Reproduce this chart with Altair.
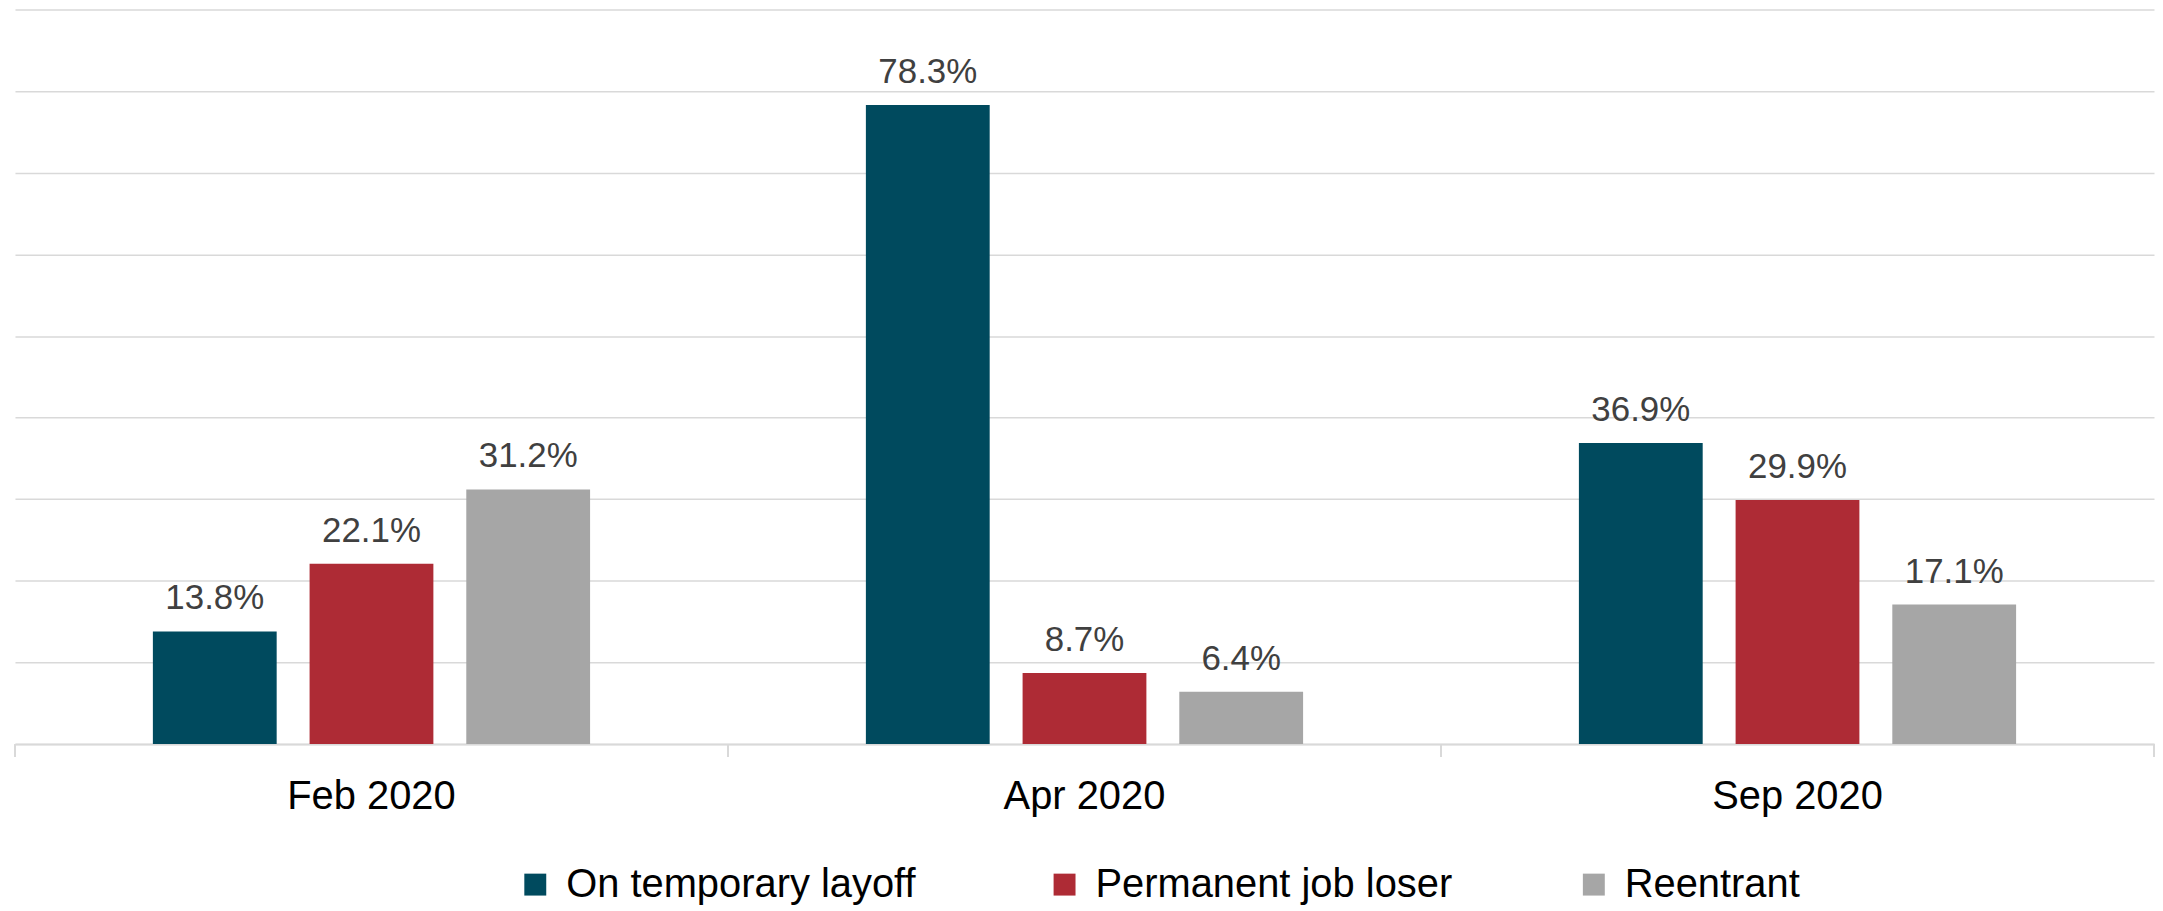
import altair as alt
import pandas as pd

periods = ["Feb 2020", "Apr 2020", "Sep 2020"]
series = ["On temporary layoff", "Permanent job loser", "Reentrant"]
temporary_layoff = [13.8, 78.3, 36.9]
permanent_loser = [22.1, 8.7, 29.9]
reentrant = [31.2, 6.4, 17.1]
colors = ["#004A5E", "#AE2B35", "#A6A6A6"]

rows = []
for i, p in enumerate(periods):
    for s, vals in zip(series, [temporary_layoff, permanent_loser, reentrant]):
        rows.append({"period": p, "series": s, "value": vals[i]})
df = pd.DataFrame(rows)
ticks_df = pd.DataFrame({"period": periods})

W, H = 2146, 737
FONT = "Liberation Sans, Arial, Helvetica, sans-serif"

x_enc = alt.X(
    "period:N",
    sort=periods,
    scale=alt.Scale(paddingInner=0, paddingOuter=0),
    axis=alt.Axis(
        title=None,
        labelFontSize=40,
        labelFont=FONT,
        labelColor="#000000",
        labelAngle=0,
        labelBaseline="alphabetic",
        labelPadding=65,
        ticks=False,
        tickSize=13,
        domainColor="#d9d9d9",
        domainWidth=2,
        grid=False,
    ),
)

y_enc = alt.Y(
    "value:Q",
    scale=alt.Scale(domain=[0, 90], nice=False),
    axis=alt.Axis(
        values=list(range(0, 91, 10)),
        labels=False,
        ticks=False,
        domain=False,
        title=None,
        gridColor="#d9d9d9",
        gridWidth=1.5,
    ),
)

base = alt.Chart(df).transform_calculate(
    label="format(datum.value, '.1f') + '%'"
)

bars = base.mark_bar().encode(
    x=x_enc,
    xOffset=alt.XOffset("series:N", sort=series,
                        scale=alt.Scale(paddingInner=0.21, paddingOuter=0.88)),
    y=y_enc,
    color=alt.Color(
        "series:N",
        sort=series,
        scale=alt.Scale(domain=series, range=colors),
        legend=alt.Legend(
            title=None,
            orient="none",
            legendX=502,
            legendY=858,
            direction="horizontal",
            columns=3,
            gridAlign="all",
            columnPadding=122,
            symbolType="square",
            symbolSize=484,
            symbolStrokeWidth=0,
            labelFontSize=40,
            labelFont=FONT,
            labelColor="#000000",
            labelLimit=800,
            labelOffset=11,
            padding=0,
        ),
    ),
)

labels = base.mark_text(
    baseline="alphabetic", dy=-22, fontSize=35, font=FONT, color="#404040"
).encode(
    x=alt.X("period:N", sort=periods),
    xOffset=alt.XOffset("series:N", sort=series),
    y="value:Q",
    text="label:N",
)

tick_rules = alt.Chart(ticks_df).mark_rule(color="#d9d9d9", strokeWidth=2).encode(
    x=alt.X("period:N", sort=periods, bandPosition=0),
    y=alt.value(H),
    y2=alt.value(H + 13),
)

end_rule = alt.Chart(ticks_df).transform_filter(
    alt.datum.period == periods[-1]
).mark_rule(color="#d9d9d9", strokeWidth=2).encode(
    x=alt.X("period:N", sort=periods, bandPosition=1),
    y=alt.value(H),
    y2=alt.value(H + 13),
)

chart = alt.layer(bars, labels, tick_rules, end_rule).properties(
    width=W,
    height=H,
    padding={"left": 6, "top": 0, "right": 0, "bottom": 0},
).configure_view(stroke=None)

chart.save("out.html", embed_options={"renderer": "svg", "actions": False})
